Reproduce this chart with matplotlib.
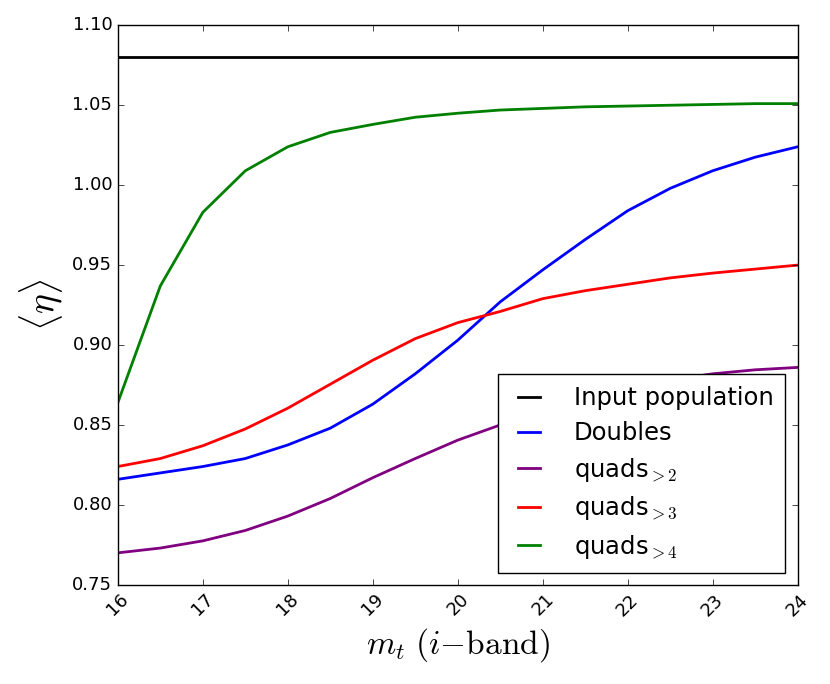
import numpy as np
import matplotlib
matplotlib.use("Agg")
import matplotlib.pyplot as plt

plt.style.use("classic")
plt.rcParams['mathtext.fontset'] = 'cm'
plt.rcParams['font.family'] = 'DejaVu Sans'

# magnitude limit (i-band)
mt = [16, 16.5, 17, 17.5, 18, 18.5, 19, 19.5, 20, 20.5, 21, 21.5, 22, 22.5, 23, 23.5, 24]

eta_input = 1.08
eta_doubles = [0.816, 0.820, 0.824, 0.829, 0.8375, 0.848, 0.863, 0.882, 0.903, 0.927,
               0.947, 0.966, 0.984, 0.998, 1.009, 1.0175, 1.024]
eta_quads2 = [0.770, 0.773, 0.7775, 0.784, 0.793, 0.804, 0.817, 0.829, 0.8405, 0.850,
              0.858, 0.866, 0.8725, 0.878, 0.882, 0.8845, 0.886]
eta_quads3 = [0.824, 0.829, 0.837, 0.8475, 0.8605, 0.8755, 0.8905, 0.904, 0.914, 0.921,
              0.929, 0.934, 0.938, 0.942, 0.945, 0.9475, 0.950]
eta_quads4 = [0.864, 0.937, 0.983, 1.009, 1.024, 1.033, 1.038, 1.0425, 1.045, 1.047,
              1.048, 1.049, 1.0495, 1.050, 1.0505, 1.051, 1.051]

fig = plt.figure(figsize=(8.3, 6.84), dpi=100, facecolor='white')
ax = fig.add_axes([0.142, 0.145, 0.819, 0.818])

ax.axhline(eta_input, color='black', lw=2, label='Input population')
ax.plot(mt, eta_doubles, color='blue', lw=2, label='Doubles')
ax.plot(mt, eta_quads2, color='purple', lw=2, label='quads$_{>2}$')
ax.plot(mt, eta_quads3, color='red', lw=2, label='quads$_{>3}$')
ax.plot(mt, eta_quads4, color='green', lw=2, label='quads$_{>4}$')

ax.set_xlim(16, 24)
ax.set_ylim(0.75, 1.10)
ax.set_xticks(np.arange(16, 25, 1))
ax.set_yticks(np.arange(0.75, 1.101, 0.05))
ax.set_yticklabels(['%.2f' % v for v in np.arange(0.75, 1.101, 0.05)])
ax.tick_params(labelsize=13)
for lab in ax.get_xticklabels():
    lab.set_rotation(45)

ax.set_xlabel(r'$m_t\ (i{-}\mathrm{band})$', fontsize=24)
ax.set_ylabel(r'$\langle\eta\rangle$', fontsize=27)

ax.legend(loc='lower right', fontsize=17.5, frameon=True, labelspacing=0.45,
          handlelength=1.5, handletextpad=1.1, borderpad=0.5, borderaxespad=0.5)

fig.savefig('out.png', dpi=100, facecolor='white')
